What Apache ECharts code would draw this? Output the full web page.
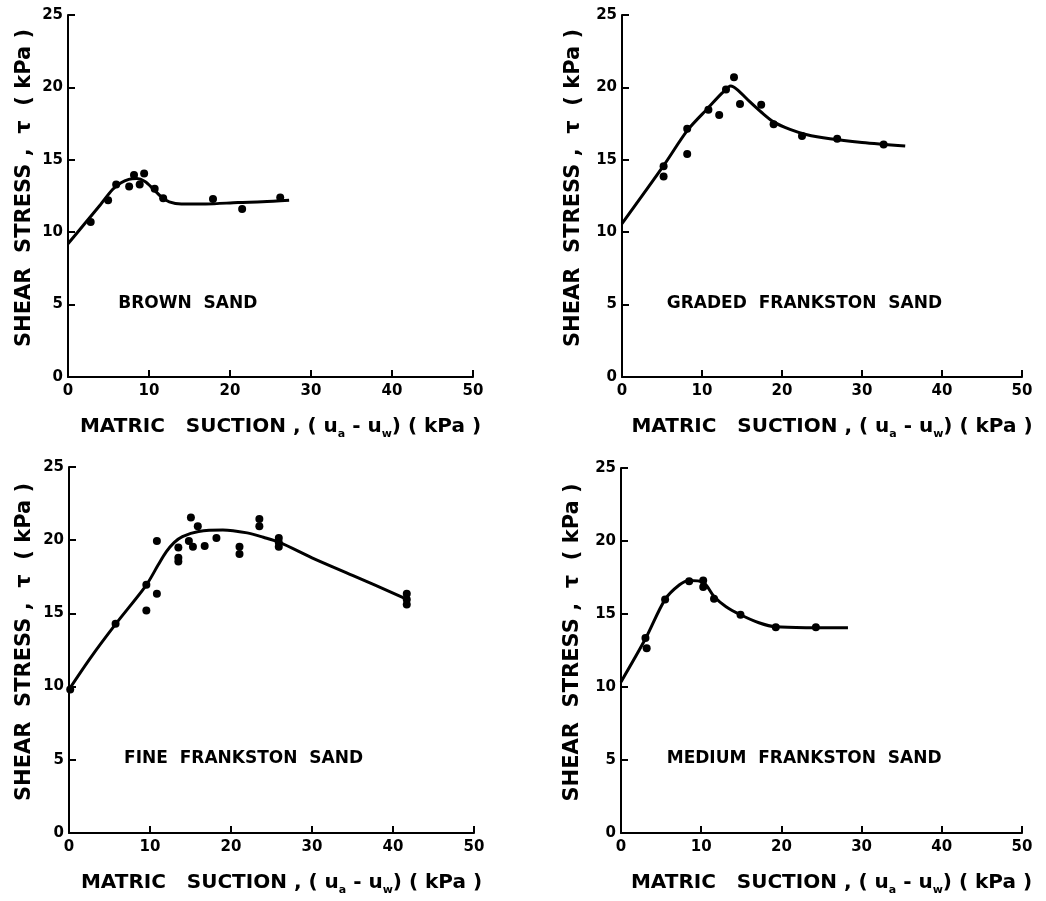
<!DOCTYPE html>
<html>
<head>
<meta charset="utf-8">
<script src="https://cdn.jsdelivr.net/npm/echarts@6/dist/echarts.min.js"></script>
<style>
html,body{margin:0;padding:0;background:#fff;}
#chart{width:1046px;height:901px;}
</style>
</head>
<body>
<div id="chart"></div>
<script>
// ---- data ----
const panelNames = ['BROWN  SAND', 'GRADED  FRANKSTON  SAND', 'FINE  FRANKSTON  SAND', 'MEDIUM  FRANKSTON  SAND'];
const labelAnchors = [[6.2, 5.1], [5.6, 5.1], [6.8, 5.1], [5.7, 5.1]];

const xTicks = [0, 10, 20, 30, 40, 50];
const yTicks = [0, 5, 10, 15, 20, 25];

const brownPoints = [[2.8,10.7],[4.95,12.2],[5.95,13.3],[7.55,13.15],[8.15,13.95],[8.85,13.3],[9.4,14.05],[10.7,13.0],[11.75,12.35],[17.9,12.3],[21.5,11.6],[26.2,12.4]];
const brownCurve = [[0,9.2],[2,10.55],[4,11.9],[5.5,12.95],[6.5,13.4],[7.5,13.65],[8.5,13.7],[9.5,13.5],[10.5,13.0],[11.5,12.45],[12.5,12.1],[14,11.95],[17,11.95],[21,12.05],[24,12.1],[27.3,12.2]];

const gradedPoints = [[5.2,14.55],[5.2,13.85],[8.15,17.15],[8.15,15.4],[10.8,18.45],[12.15,18.1],[13.0,19.85],[14.0,20.7],[14.75,18.85],[17.4,18.8],[18.95,17.45],[22.5,16.65],[26.9,16.45],[32.7,16.05]];
const gradedCurve = [[0,10.6],[5.2,14.6],[8.2,17.05],[10.8,18.6],[12.5,19.6],[13.6,20.1],[14.4,19.85],[16,19.0],[17.5,18.25],[19,17.6],[21,17.1],[23,16.75],[26,16.45],[30,16.2],[35.4,15.95]];

const finePoints = [[0.15,9.8],[5.75,14.3],[9.55,16.95],[9.55,15.2],[10.85,19.95],[10.85,16.35],[13.5,19.5],[13.5,18.8],[13.5,18.55],[14.8,19.95],[15.05,21.55],[15.3,19.55],[15.9,20.95],[16.75,19.6],[18.2,20.15],[21.05,19.55],[21.05,19.05],[23.5,21.45],[23.5,20.95],[25.9,20.15],[25.9,19.85],[25.9,19.55],[41.7,16.35],[41.7,15.95],[41.7,15.6]];
const fineCurve = [[0,9.8],[2.7,12.0],[5.8,14.3],[9.5,16.9],[11,18.3],[12,19.2],[13,19.85],[14,20.25],[16,20.6],[19,20.7],[22,20.5],[24,20.2],[26,19.85],[30,18.8],[35,17.6],[41.6,16.0]];

const mediumPoints = [[3.05,13.35],[3.2,12.65],[5.5,16.0],[8.5,17.25],[10.25,17.3],[10.25,16.85],[11.6,16.05],[14.9,14.95],[19.3,14.1],[24.3,14.1]];
const mediumCurve = [[0,10.35],[3.05,13.3],[5.5,16.0],[7.3,17.0],[8.5,17.3],[10.2,17.2],[11.6,16.2],[13.1,15.5],[14.9,14.95],[17.2,14.4],[19.3,14.12],[24.3,14.06],[28.3,14.05]];

const pointSets = [brownPoints, gradedPoints, finePoints, mediumPoints];
const curveSets = [brownCurve, gradedCurve, fineCurve, mediumCurve];

const xTitle = '{n|MATRIC   SUCTION , ( u}{sub|a}{n| - u}{sub|w}{n|) ( kPa )}';
const yTitle = 'SHEAR  STRESS ,  τ  ( kPa )';

// ---- layout ----
const grids = [
  {left: 68, top: 15, width: 405, height: 362},
  {left: 622, top: 15, width: 400, height: 362},
  {left: 69, top: 467, width: 405, height: 366},
  {left: 621, top: 468, width: 401, height: 365}
];
const yNameGaps = [33, 38, 34, 38];

const FONT = 'DejaVu Sans';
const axisLineStyle = {color: '#000', width: 2};

const option = {
  animation: false,
  backgroundColor: '#fff',
  grid: grids.map(g => Object.assign({containLabel: false}, g)),
  xAxis: grids.map((g, i) => ({
    type: 'value', gridIndex: i, min: xTicks[0], max: xTicks[xTicks.length-1], interval: 10,
    axisLine: {show: true, onZero: false, lineStyle: axisLineStyle},
    axisTick: {show: true, inside: true, length: 7, lineStyle: axisLineStyle},
    splitLine: {show: false},
    axisLabel: {color: '#000', fontFamily: FONT, fontWeight: 'bold', fontSize: 15, margin: 7},
    name: xTitle, nameLocation: 'middle', nameGap: 37,
    nameTextStyle: {
      padding: [0, 0, 0, 20],
      rich: {
        n: {fontFamily: FONT, fontWeight: 'bold', fontSize: 20, color: '#000', lineHeight: 26},
        sub: {fontFamily: FONT, fontWeight: 'bold', fontSize: 11, color: '#000', lineHeight: 14, verticalAlign: 'bottom'}
      }
    }
  })),
  yAxis: grids.map((g, i) => ({
    type: 'value', gridIndex: i, min: yTicks[0], max: yTicks[yTicks.length-1], interval: 5,
    axisLine: {show: true, onZero: false, lineStyle: axisLineStyle},
    axisTick: {show: true, inside: true, length: 7, lineStyle: axisLineStyle},
    splitLine: {show: false},
    axisLabel: {color: '#000', fontFamily: FONT, fontWeight: 'bold', fontSize: 15, margin: 5},
    name: yTitle, nameLocation: 'middle', nameGap: yNameGaps[i],
    nameTextStyle: {color: '#000', fontFamily: FONT, fontWeight: 'bold', fontSize: 21, padding: [0, 0, 0, 16]}
  })),
  series: []
};

for (let i = 0; i < 4; i++) {
  option.series.push({
    type: 'line', xAxisIndex: i, yAxisIndex: i, data: curveSets[i],
    smooth: 0.3, showSymbol: false, symbol: 'none',
    lineStyle: {color: '#000', width: 3, opacity: 1}, z: 3
  });
  option.series.push({
    type: 'scatter', xAxisIndex: i, yAxisIndex: i, data: pointSets[i],
    symbol: 'circle', symbolSize: 8, itemStyle: {color: '#000', opacity: 1}, z: 4
  });
  option.series.push({
    type: 'scatter', xAxisIndex: i, yAxisIndex: i, data: [labelAnchors[i]],
    symbolSize: 0, silent: true, itemStyle: {color: '#000', opacity: 1},
    label: {show: true, position: 'right', distance: 0, formatter: panelNames[i],
            color: '#000', opacity: 1, fontFamily: FONT, fontWeight: 'bold', fontSize: 17}
  });
}

const chart = echarts.init(document.getElementById('chart'), null, {renderer: 'canvas'});
chart.setOption(option);
</script>
</body>
</html>
